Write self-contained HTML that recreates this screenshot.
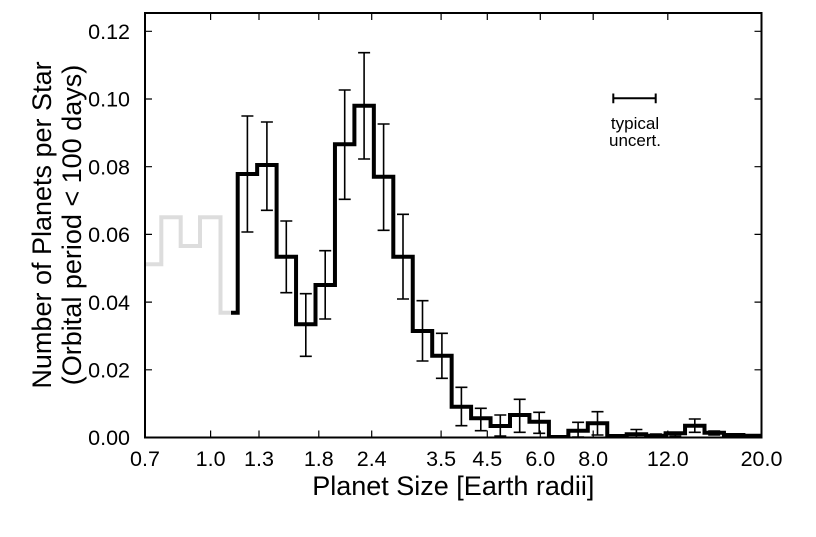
<!DOCTYPE html>
<html><head><meta charset="utf-8"><style>
html,body{margin:0;padding:0;background:#fff;}
svg{display:block;}
text{font-family:"Liberation Sans",Arial,Helvetica,sans-serif;fill:#000;}
</style></head><body>
<svg width="816" height="537" viewBox="0 0 816 537" xmlns="http://www.w3.org/2000/svg">
<defs><clipPath id="pa"><rect x="145" y="13" width="616.5" height="424.5"/></clipPath></defs>
<rect width="816" height="537" fill="#fff"/>
<g clip-path="url(#pa)">
<path d="M143,264.3 H161.3 V217.3 H180.7 V246 H200 V217.3 H220.5 V312.7 H233" fill="none" stroke="#dddddd" stroke-width="4" stroke-linejoin="miter"/>
<g stroke="#000" stroke-width="1.6" fill="none">
<path d="M247.4,116V232M241.4,116H253.4M241.4,232H253.4"/>
<path d="M266.9,122V210.3M260.9,122H272.9M260.9,210.3H272.9"/>
<path d="M286.3,221V292.7M280.3,221H292.3M280.3,292.7H292.3"/>
<path d="M305.8,293.7V356.3M299.8,293.7H311.8M299.8,356.3H311.8"/>
<path d="M325.2,250.7V319M319.2,250.7H331.2M319.2,319H331.2"/>
<path d="M344.7,90V199.3M338.7,90H350.7M338.7,199.3H350.7"/>
<path d="M364.1,52.7V159M358.1,52.7H370.1M358.1,159H370.1"/>
<path d="M383.6,124V230.3M377.6,124H389.6M377.6,230.3H389.6"/>
<path d="M403,214.3V299M397,214.3H409M397,299H409"/>
<path d="M422.5,300.7V361M416.5,300.7H428.5M416.5,361H428.5"/>
<path d="M441.9,333.3V378.3M435.9,333.3H447.9M435.9,378.3H447.9"/>
<path d="M461.4,387.3V425.7M455.4,387.3H467.4M455.4,425.7H467.4"/>
<path d="M480.8,408.3V430.7M474.8,408.3H486.8M474.8,430.7H486.8"/>
<path d="M500.3,415V436M494.3,415H506.3M494.3,436H506.3"/>
<path d="M519.7,399.3V432.3M513.7,399.3H525.7M513.7,432.3H525.7"/>
<path d="M539.2,412.3V433.3M533.2,412.3H545.2M533.2,433.3H545.2"/>
<path d="M578.1,422.3V437M572.1,422.3H584.1M572.1,437H584.1"/>
<path d="M597.5,411.7V435M591.5,411.7H603.5M591.5,435H603.5"/>
<path d="M636.4,429.5V437M630.4,429.5H642.4"/>
<path d="M655.9,434V437M649.9,434H661.9"/>
<path d="M675.3,432.3V436M669.3,432.3H681.3M669.3,436H681.3"/>
<path d="M694.8,419V432.3M688.8,419H700.8M688.8,432.3H700.8"/>
<path d="M714.2,431V435M708.2,431H720.2M708.2,435H720.2"/>
</g>
<path d="M231,312.7 H237.7 V174 H257.15 V165 H276.6 V256.7 H296.05 V324.3 H315.5 V285 H334.95 V144.3 H354.4 V105.7 H373.85 V176.7 H393.3 V256.7 H412.75 V331 H432.2 V355.7 H451.65 V406.7 H471.1 V418.3 H490.55 V426 H510 V415 H529.45 V421.7 H548.9 V437 H568.35 V430.7 H587.8 V423.3 H607.25 V436 H626.7 V434.3 H646.15 V435.7 H665.6 V433.3 H685.05 V425.7 H704.5 V432.7 H723.95 V435 H743.4 V435.8 H765" fill="none" stroke="#000" stroke-width="4" stroke-linejoin="miter"/>
</g>
<g stroke="#000" stroke-width="1.2" fill="none">
<path d="M210.6,437.5V430.5M259,437.5V430.5M318.8,437.5V430.5M371.7,437.5V430.5M441.1,437.5V430.5M487.3,437.5V430.5M540.3,437.5V430.5M593.2,437.5V430.5M667.8,437.5V430.5"/>
<path d="M210.6,13V20M259,13V20M318.8,13V20M371.7,13V20M441.1,13V20M487.3,13V20M540.3,13V20M593.2,13V20M667.8,13V20"/>
<path d="M145,369.8H152M145,302.1H152M145,234.4H152M145,166.7H152M145,99H152M145,31.3H152"/>
<path d="M761.5,369.8H754.5M761.5,302.1H754.5M761.5,234.4H754.5M761.5,166.7H754.5M761.5,99H754.5M761.5,31.3H754.5"/>
</g>
<rect x="145" y="13" width="616.5" height="424.5" fill="none" stroke="#000" stroke-width="2"/>
<g stroke="#000" stroke-width="2" fill="none">
<path d="M613.3,98.3H655.7M613.3,93.5V103.3M655.7,93.5V103.3"/>
</g>
<text x="635" y="129" font-size="17" text-anchor="middle">typical</text>
<text x="635" y="146" font-size="17" text-anchor="middle">uncert.</text>
<g font-size="21.5" text-anchor="end">
<text x="130" y="445.2">0.00</text>
<text x="130" y="377.5">0.02</text>
<text x="130" y="309.8">0.04</text>
<text x="130" y="242.1">0.06</text>
<text x="130" y="174.4">0.08</text>
<text x="130" y="106.7">0.10</text>
<text x="130" y="39">0.12</text>
</g>
<g font-size="21.5" text-anchor="middle">
<text x="145" y="466">0.7</text>
<text x="210.6" y="466">1.0</text>
<text x="259" y="466">1.3</text>
<text x="318.8" y="466">1.8</text>
<text x="371.7" y="466">2.4</text>
<text x="441.1" y="466">3.5</text>
<text x="487.3" y="466">4.5</text>
<text x="540.3" y="466">6.0</text>
<text x="593.2" y="466">8.0</text>
<text x="667.8" y="466">12.0</text>
<text x="761.5" y="466">20.0</text>
</g>
<text x="453.3" y="495" font-size="27" text-anchor="middle">Planet Size [Earth radii]</text>
<g transform="translate(51,225) rotate(-90)">
<text x="0" y="0" font-size="27" text-anchor="middle">Number of Planets per Star</text>
</g>
<g transform="translate(81,225) rotate(-90)">
<text x="0" y="0" font-size="27" text-anchor="middle">(Orbital period &lt; 100 days)</text>
</g>
</svg>
</body></html>
